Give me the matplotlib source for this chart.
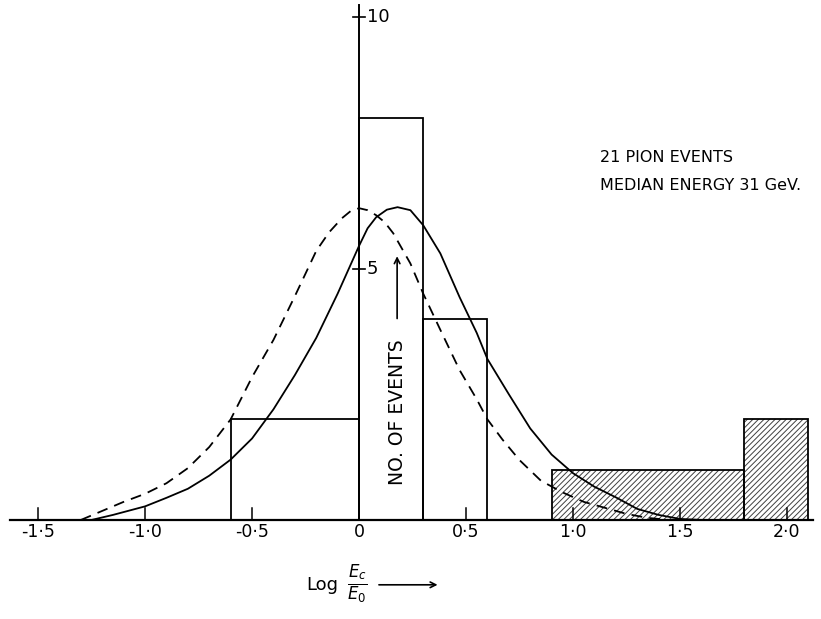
import matplotlib
matplotlib.use("Agg")
import matplotlib.pyplot as plt

# histogram bins (left edge, width, height)
bin_left = [-0.6, 0.0, 0.3, 0.9, 1.8]
bin_width = [0.6, 0.3, 0.3, 0.9, 0.3]
bin_height = [2, 8, 4, 1, 2]
bin_hatched = [False, False, False, True, True]

# dashed curve, read point by point
dashed_x = [-1.30, -1.20, -1.10, -1.00, -0.90, -0.80, -0.70, -0.60, -0.50, -0.40,
            -0.30, -0.20, -0.14, -0.08, -0.04, 0.00, 0.04, 0.08, 0.12, 0.16,
            0.24, 0.30, 0.38, 0.47, 0.55, 0.60, 0.67, 0.75, 0.85, 0.95,
            1.05, 1.15, 1.25, 1.35, 1.45]
dashed_y = [0.00, 0.18, 0.36, 0.52, 0.73, 1.03, 1.45, 2.00, 2.84, 3.58,
            4.45, 5.35, 5.72, 6.00, 6.14, 6.20, 6.16, 6.06, 5.92, 5.70,
            5.10, 4.50, 3.78, 2.98, 2.40, 2.00, 1.60, 1.19, 0.78, 0.55,
            0.36, 0.24, 0.12, 0.04, 0.00]

# solid curve
solid_x = [-1.25, -1.15, -1.00, -0.90, -0.80, -0.70, -0.60, -0.50, -0.40, -0.30,
           -0.20, -0.10, 0.00, 0.04, 0.08, 0.13, 0.18, 0.24, 0.30, 0.38,
           0.47, 0.55, 0.60, 0.70, 0.80, 0.90, 1.00, 1.10, 1.20, 1.30,
           1.40, 1.50, 1.60]
solid_y = [0.00, 0.10, 0.27, 0.44, 0.62, 0.88, 1.20, 1.62, 2.20, 2.88,
           3.62, 4.50, 5.45, 5.80, 6.02, 6.17, 6.22, 6.16, 5.86, 5.30,
           4.43, 3.72, 3.20, 2.50, 1.82, 1.30, 0.93, 0.66, 0.45, 0.22,
           0.10, 0.02, 0.00]

x_ticks = [-1.5, -1.0, -0.5, 0.0, 0.5, 1.0, 1.5, 2.0]
x_tick_labels = ["-1·5", "-1·0", "-0·5", "0", "0·5", "1·0", "1·5", "2·0"]
y_ticks = [5, 10]
y_tick_labels = ["5", "10"]

title_lines = ["21 PION EVENTS", "MEDIAN ENERGY 31 GeV."]

plt.rcParams['hatch.linewidth'] = 0.7

fig = plt.figure(figsize=(8.21, 6.19), dpi=100)
ax = fig.add_axes([0, 0, 1, 1])
ax.set_xlim(-1.678, 2.159)
ax.set_ylim(-1.97, 10.34)
ax.axis('off')

lw = 1.3

# axes lines
ax.plot([-1.63, 2.12], [0, 0], color='black', lw=1.6)
ax.plot([0, 0], [0, 10.25], color='black', lw=1.4)

# x ticks (small marks above the axis)
for t, lab in zip(x_ticks, x_tick_labels):
    ax.plot([t, t], [0, 0.24], color='black', lw=1.1)
    ax.text(t, -0.24, lab, ha='center', va='center', fontsize=12.5)

# y ticks crossing the axis
for t, lab in zip(y_ticks, y_tick_labels):
    ax.plot([-0.03, 0.03], [t, t], color='black', lw=1.2)
    ax.text(0.035, t, lab, ha='left', va='center', fontsize=13)

# histogram
for left, w, h, hatched in zip(bin_left, bin_width, bin_height, bin_hatched):
    if hatched:
        ax.bar(left, h, width=w, align='edge', fill=False, hatch='//////',
               edgecolor='0.25', linewidth=0)
    ax.bar(left, h, width=w, align='edge', fill=False, edgecolor='black',
           linewidth=lw)

# curves
ax.plot(dashed_x, dashed_y, color='black', lw=lw, dashes=(6, 4))
ax.plot(solid_x, solid_y, color='black', lw=lw)

# annotation text
ax.text(1.126, 7.2, title_lines[0], ha='left', va='center', fontsize=11.5)
ax.text(1.126, 6.66, title_lines[1], ha='left', va='center', fontsize=11.5)

# y label with arrow
ax.text(0.178, 2.15, "NO. OF EVENTS", rotation=90, ha='center', va='center',
        fontsize=13.5)
ax.annotate("", xy=(0.178, 5.3), xytext=(0.178, 3.95),
            arrowprops=dict(arrowstyle='->', color='black', lw=1.2))

# x label with arrow
ax.text(-0.17, -1.29, "Log", ha='center', va='center', fontsize=13)
ax.text(-0.01, -1.29, r"$\frac{E_c}{E_0}$", ha='center', va='center', fontsize=17)
ax.annotate("", xy=(0.38, -1.29), xytext=(0.08, -1.29),
            arrowprops=dict(arrowstyle='->', color='black', lw=1.2))

fig.savefig("out.png", dpi=100)
